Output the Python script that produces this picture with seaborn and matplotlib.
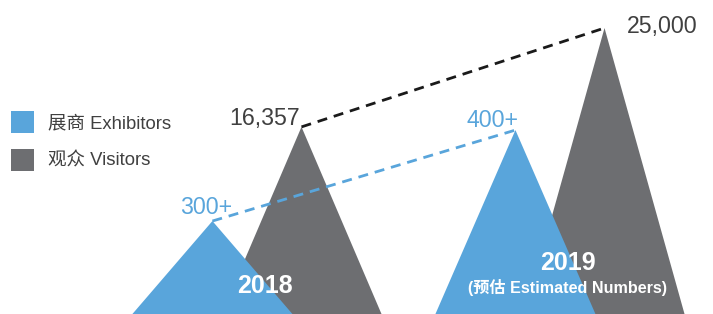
import matplotlib
matplotlib.use("Agg")
import matplotlib.pyplot as plt
import seaborn as sns
import pandas as pd
from matplotlib.patches import Patch

years = ["2018", "2019"]
exhibitors = [300, 400]
visitors = [16357, 25000]
exhibitor_labels = ["300+", "400+"]
visitor_labels = ["16,357", "25,000"]
year_notes = ["", "(预估 Estimated Numbers)"]
legend_labels = ["展商 Exhibitors", "观众 Visitors"]

BLUE = "#59a5db"
GRAY = "#6d6e71"
TEXT = "#404040"

sns.set_theme(style="white")
plt.rcParams["font.family"] = ["Liberation Sans", "Noto Sans CJK SC", "DejaVu Sans"]

fig = plt.figure(figsize=(7.13, 3.14), dpi=100)
ax = fig.add_axes([0, 0, 1, 1])
ax2 = ax.twinx()

offset = 0.147   # shift of each triangle from the year centre
half = 0.264     # half base width
exh_lim = (197.8, 543)

df = pd.DataFrame({"year": years, "i": range(len(years)),
                   "exhibitors": exhibitors, "visitors": visitors})
df["x_exh"] = df["i"] - offset
df["x_vis"] = df["i"] + offset

# visitors (grey) on the main axis
for _, r in df.iterrows():
    ax.fill([r.x_vis - half, r.x_vis, r.x_vis + half], [0, r.visitors, 0],
            color=GRAY, lw=0)
sns.lineplot(data=df, x="x_vis", y="visitors", ax=ax, color="#1a1a1a",
             lw=2, linestyle=(0, (3.6, 2.5)), zorder=5)

# exhibitors (blue) on the twin axis, drawn on top
b0 = exh_lim[0]
for _, r in df.iterrows():
    ax2.fill([r.x_exh - half, r.x_exh, r.x_exh + half], [b0, r.exhibitors, b0],
             color=BLUE, lw=0)
sns.lineplot(data=df, x="x_exh", y="exhibitors", ax=ax2, color=BLUE,
             lw=2, linestyle=(0, (3.6, 2.5)), zorder=5)

ax.set_xlim(-0.848, 1.505)
ax.set_ylim(0, 27450)
ax2.set_ylim(*exh_lim)
ax2.set_xlim(ax.get_xlim())
for a in (ax, ax2):
    a.set_axis_off()

# value labels
vis_off = [(-2, 2, "right"), (22, -5, "left")]
for (_, r), lab, (dx, dy, ha) in zip(df.iterrows(), visitor_labels, vis_off):
    ax.annotate(lab, (r.x_vis, r.visitors), xytext=(dx, dy),
                textcoords="offset pixels", ha=ha, va="baseline",
                fontsize=16.7, color=TEXT)
exh_off = [(20, 7), (3, 3)]
for (_, r), lab, (dx, dy) in zip(df.iterrows(), exhibitor_labels, exh_off):
    ax2.annotate(lab, (r.x_exh, r.exhibitors), xytext=(dx, dy),
                 textcoords="offset pixels", ha="right", va="baseline",
                 fontsize=16.7, color=BLUE)

# year labels
year_y = [28, 51]
for (_, r), yy, note in zip(df.iterrows(), year_y, year_notes):
    ax2.annotate(r.year, (r.i, 0), xycoords=("data", "axes fraction"),
                 xytext=(8, yy), textcoords="offset pixels",
                 ha="center", va="center", fontsize=18, fontweight="bold",
                 color="white", zorder=10)
    if note:
        ax2.annotate(note, (r.i, 0), xycoords=("data", "axes fraction"),
                     xytext=(8, 27), textcoords="offset pixels",
                     ha="center", va="center", fontsize=11.6, fontweight="bold",
                     color="white", zorder=10)

handles = [Patch(color=BLUE, lw=0), Patch(color=GRAY, lw=0)]
fig.legend(handles, legend_labels, loc="upper left",
           bbox_to_anchor=(11 / 713, 1 - 111 / 314), frameon=False,
           fontsize=13.3, handlelength=1.25, handleheight=1.44,
           handletextpad=0.75, labelspacing=0.86, borderpad=0,
           borderaxespad=0, labelcolor=TEXT)

fig.savefig("out.png", dpi=100)
